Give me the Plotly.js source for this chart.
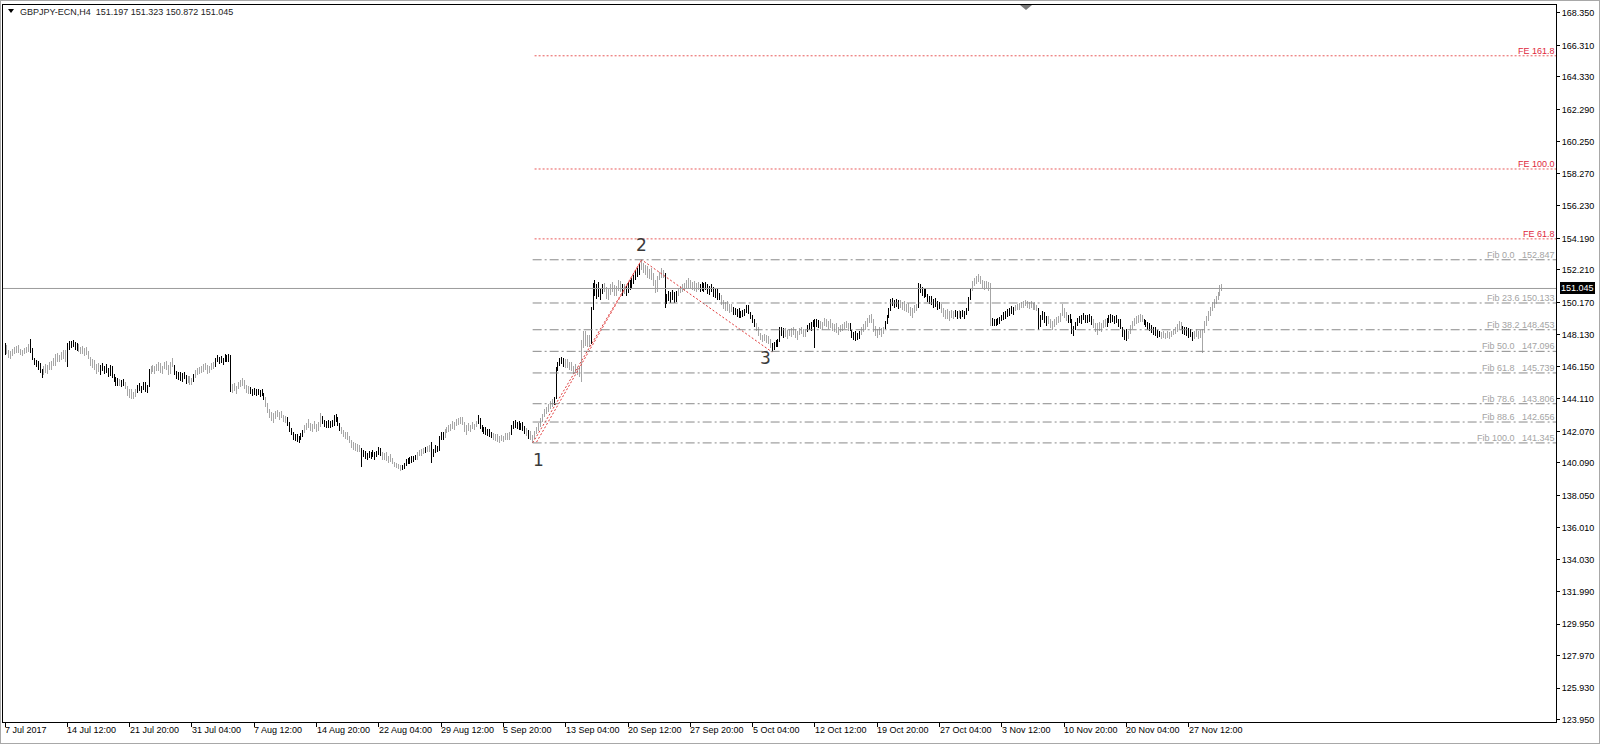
<!DOCTYPE html>
<html><head><meta charset="utf-8">
<script src="https://cdn.plot.ly/plotly-3.0.1.min.js"></script>
<style>
html,body{margin:0;padding:0;background:#fff;}
#wrap{position:relative;width:1600px;height:744px;}
#chart{width:1600px;height:744px;}
#frame{position:absolute;left:0;top:0;width:1600px;height:744px;box-sizing:border-box;border:1px solid #a8a8a8;pointer-events:none;}
g.ohlc path{shape-rendering:crispEdges;}
</style></head><body>
<div id="wrap"><div id="chart"></div><div id="frame"></div></div>
<script>
const symbolName = "GBPJPY-ECN,H4";

const barOpen = [
147.05,147.40,147.05,146.85,147.00,147.15,147.05,147.30,147.10,146.95,
147.05,147.20,147.12,147.45,147.25,146.62,146.35,146.45,146.05,145.85,
145.70,146.10,145.88,146.15,146.05,146.40,146.35,146.80,146.55,146.75,
146.95,146.70,147.05,147.50,147.55,147.62,147.45,147.30,147.50,147.15,
147.30,147.00,147.20,146.95,146.70,146.30,146.45,146.05,146.20,145.95,
146.10,145.95,146.05,145.85,145.60,146.10,145.55,145.35,145.10,145.25,
145.00,145.20,145.05,144.85,144.40,144.60,144.25,144.45,144.55,144.90,
144.70,144.85,145.05,144.65,144.90,145.85,146.05,145.90,146.10,145.95,
146.25,145.85,146.15,146.35,146.05,145.75,146.30,146.20,145.70,145.45,
145.70,145.40,145.60,145.45,145.20,145.45,145.15,145.30,145.55,145.80,
145.70,146.00,145.85,146.20,146.00,145.80,146.10,146.25,146.15,146.60,
146.50,146.65,146.45,146.60,146.75,146.55,146.80,144.75,144.90,144.70,
144.85,145.05,144.95,145.20,144.85,144.60,144.80,144.50,144.65,144.45,
144.60,144.40,144.55,144.35,144.15,143.70,143.35,143.10,142.85,143.05,
143.20,143.05,143.15,142.95,142.80,142.90,142.50,142.15,141.95,141.65,
141.80,141.50,141.65,141.85,142.05,142.35,142.50,142.40,142.20,142.45,
142.35,142.15,142.55,143.00,142.65,142.45,142.65,142.40,142.60,142.45,
142.95,142.80,142.50,142.20,142.00,141.80,141.90,141.60,141.45,141.15,
141.25,140.95,141.10,140.90,140.60,140.75,140.45,140.60,140.50,140.70,
140.55,140.65,140.75,140.95,140.60,140.40,140.60,140.30,140.45,140.25,
140.10,139.95,139.85,139.80,139.70,139.90,140.00,140.25,140.10,140.35,
140.20,140.45,140.35,140.70,140.60,140.85,140.75,141.00,140.85,141.10,
140.60,140.85,141.05,140.90,141.70,141.90,141.75,142.10,142.25,142.15,
142.45,142.35,142.55,142.75,142.60,142.85,142.55,142.15,142.35,142.20,
142.40,142.30,142.45,142.65,142.85,142.35,142.15,142.25,141.95,142.10,
141.80,141.90,141.65,141.80,141.50,141.65,141.55,141.70,141.85,141.60,
141.90,142.35,142.60,142.40,142.55,142.25,142.50,142.20,142.00,141.90,
142.05,141.65,141.75,142.00,142.25,142.50,142.80,143.05,143.35,143.50,
143.70,143.85,143.90,144.15,145.95,146.35,146.55,146.45,146.25,146.50,
146.15,146.30,145.95,146.10,145.85,145.95,145.65,147.55,148.10,147.70,
147.95,147.60,149.75,151.20,150.75,151.10,150.65,150.95,151.20,150.90,
150.55,150.85,151.15,151.00,150.75,151.05,151.40,150.95,151.15,150.85,
151.05,151.30,151.10,151.60,151.80,152.05,151.95,152.45,152.55,152.20,
152.35,151.85,152.10,151.70,151.35,150.95,151.70,151.95,152.05,151.85,
150.20,150.55,150.40,150.65,150.50,150.30,150.80,150.95,151.10,151.00,
151.30,151.20,151.45,151.15,151.35,151.05,151.25,151.10,151.20,151.05,
151.30,151.10,150.85,151.10,150.95,150.65,150.90,150.50,150.60,150.10,
149.85,150.05,149.70,149.90,149.65,149.75,149.45,149.60,149.30,149.50,
149.35,149.65,149.85,149.55,149.20,148.95,148.75,148.55,148.15,147.95,
148.05,147.85,147.95,147.65,147.45,147.35,147.60,147.50,147.75,148.45,
148.20,148.40,148.15,148.35,148.20,148.45,148.30,148.10,148.30,148.45,
148.35,148.15,148.40,148.65,148.55,148.85,148.70,148.95,148.75,148.90,
148.65,148.85,149.05,148.75,148.90,148.65,148.50,148.70,148.40,148.55,
148.45,148.70,148.85,148.65,148.75,148.45,148.05,148.20,147.90,148.15,
148.30,148.50,148.70,148.85,149.10,149.30,149.05,148.45,148.20,148.35,
148.25,148.45,148.55,148.90,149.30,149.70,150.30,150.10,150.25,150.00,
150.15,149.95,150.05,149.80,149.95,149.65,149.45,149.70,149.85,150.00,
151.10,150.95,150.75,150.85,150.60,150.35,150.45,150.15,150.30,150.00,
150.10,149.85,149.60,149.40,149.55,149.30,149.45,149.35,149.50,149.40,
149.55,149.30,149.50,149.35,149.55,149.70,150.40,150.95,151.40,151.55,
151.65,151.75,151.45,151.20,151.35,151.15,151.30,148.90,149.05,148.80,
149.00,148.90,149.15,149.30,149.20,149.50,149.40,149.70,149.60,149.75,
149.90,149.80,150.05,149.95,150.15,150.10,150.00,150.10,149.90,150.05,
149.80,149.75,148.70,149.25,149.45,149.00,149.15,148.95,148.70,148.85,
149.00,149.15,149.05,149.40,149.75,149.35,149.10,149.30,149.00,148.35,
148.55,148.85,149.10,148.95,149.25,149.20,149.05,149.25,149.10,148.90,
148.65,148.50,148.70,148.55,148.75,148.90,148.75,149.10,149.00,149.30,
149.05,149.20,148.95,149.05,148.60,148.15,148.30,147.95,148.30,148.65,
148.90,149.05,149.15,149.00,149.30,149.10,148.85,148.70,148.80,148.55,
148.40,148.50,148.20,148.30,148.10,148.20,148.05,148.15,148.05,148.20,
148.30,148.40,148.50,148.70,148.85,148.55,148.35,148.50,148.20,148.40,
148.10,147.90,148.25,148.10,148.30,148.05,148.35,148.90,149.20,149.45,
149.80,150.05,150.25,150.45,150.70,151.197
];

const barHigh = [
147.62,147.48,147.20,147.10,147.25,147.35,147.45,147.50,147.22,147.15,
147.28,147.40,147.55,147.87,147.30,146.70,146.55,146.50,146.35,146.00,
146.20,146.30,146.25,146.45,146.50,146.70,146.95,146.98,146.85,147.05,
147.15,147.18,147.65,147.72,147.75,147.80,147.70,147.60,147.55,147.40,
147.45,147.30,147.35,147.10,146.75,146.60,146.55,146.30,146.35,146.25,
146.35,146.15,146.30,146.05,146.25,146.20,145.70,145.50,145.40,145.38,
145.30,145.35,145.15,144.95,144.70,144.75,144.55,144.70,145.00,145.10,
144.95,145.20,145.15,145.00,145.97,146.20,146.25,146.15,146.30,146.40,
146.35,146.20,146.45,146.50,146.25,146.40,146.66,146.25,145.85,145.80,
145.82,145.75,145.80,145.60,145.55,145.55,145.40,145.65,145.90,146.05,
146.10,146.20,146.30,146.35,146.25,146.20,146.35,146.40,146.70,146.85,
146.75,146.80,146.70,146.90,146.85,146.95,146.87,145.05,145.10,144.95,
145.15,145.30,145.40,145.30,145.00,144.90,144.85,144.75,144.77,144.70,
144.72,144.65,144.70,144.50,144.20,143.85,143.50,143.30,143.20,143.35,
143.40,143.30,143.38,143.10,143.05,143.00,142.65,142.30,142.00,141.90,
141.90,141.75,141.95,142.15,142.45,142.60,142.85,142.60,142.55,142.70,
142.55,142.65,143.20,143.05,142.80,142.75,142.80,142.70,142.78,143.10,
143.16,142.95,142.60,142.35,142.15,142.05,142.00,141.75,141.55,141.40,
141.35,141.25,141.20,141.00,140.90,140.85,140.70,140.85,140.80,140.90,
140.75,140.85,141.10,141.05,140.80,140.70,140.75,140.55,140.65,140.40,
140.17,140.10,140.00,139.95,139.98,140.10,140.35,140.40,140.45,140.50,
140.55,140.60,140.80,140.90,140.95,141.05,141.10,141.15,141.20,141.42,
140.95,141.20,141.15,141.80,142.05,142.00,142.20,142.35,142.45,142.55,
142.70,142.65,142.85,142.90,143.00,142.95,142.68,142.45,142.60,142.50,
142.65,142.55,142.75,143.10,142.90,142.45,142.37,142.35,142.20,142.25,
142.00,141.95,141.90,141.90,141.75,141.85,141.80,141.95,141.95,142.00,
142.45,142.75,142.78,142.65,142.70,142.60,142.65,142.40,142.26,142.15,
142.10,141.85,142.10,142.35,142.60,142.90,143.15,143.45,143.60,143.80,
143.95,144.10,144.25,146.13,146.45,146.70,146.76,146.65,146.60,146.60,
146.40,146.45,146.20,146.30,146.10,146.15,147.80,148.40,148.35,148.15,
148.10,149.90,151.40,151.58,151.30,151.45,151.10,151.35,151.40,151.15,
151.00,151.30,151.47,151.25,151.20,151.58,151.50,151.30,151.35,151.20,
151.45,151.55,151.70,151.90,152.20,152.35,152.60,152.847,152.65,152.50,
152.45,152.25,152.30,152.00,151.60,151.85,152.10,152.30,152.20,152.00,
150.70,150.90,150.80,150.95,150.85,150.90,151.10,151.20,151.30,151.40,
151.55,151.68,151.60,151.45,151.50,151.40,151.45,151.35,151.47,151.40,
151.45,151.30,151.20,151.35,151.15,151.00,151.10,150.75,150.65,150.30,
150.20,150.25,150.05,150.10,149.90,149.85,149.75,149.80,149.60,149.70,
149.75,150.00,150.00,149.59,149.40,149.15,148.90,148.60,148.23,148.15,
148.20,148.10,148.05,147.85,147.60,147.70,147.81,147.85,148.60,148.65,
148.55,148.57,148.45,148.50,148.55,148.60,148.50,148.40,148.55,148.60,
148.50,148.45,148.75,148.90,148.95,149.05,149.10,149.10,149.05,149.00,
148.95,149.20,149.15,149.00,149.10,148.85,148.80,148.85,148.65,148.75,
148.80,148.95,149.00,148.90,148.85,148.46,148.30,148.35,148.25,148.40,
148.60,148.80,149.00,149.20,149.40,149.45,149.10,148.67,148.50,148.60,
148.55,148.65,149.00,149.40,149.83,150.40,150.46,150.35,150.40,150.30,
150.30,150.20,150.25,150.10,150.15,149.90,149.85,150.00,150.10,151.40,
151.30,151.15,151.00,151.05,150.67,150.60,150.55,150.40,150.45,150.25,
150.20,150.04,149.85,149.70,149.75,149.60,149.70,149.65,149.72,149.65,
149.70,149.60,149.70,149.65,149.80,150.50,151.09,151.50,151.70,151.80,
151.97,151.85,151.55,151.50,151.51,151.45,151.40,149.20,149.15,149.10,
149.20,149.25,149.40,149.55,149.60,149.75,149.80,149.93,149.90,150.00,
150.10,150.15,150.20,150.25,150.35,150.25,150.20,150.25,150.15,150.20,
150.00,149.80,149.40,149.62,149.55,149.30,149.30,149.15,149.00,149.10,
149.25,149.30,149.50,150.04,149.80,149.55,149.40,149.45,149.10,148.70,
148.95,149.20,149.30,149.35,149.51,149.40,149.35,149.45,149.30,149.10,
148.90,148.85,148.95,148.85,149.05,149.12,149.20,149.35,149.43,149.40,
149.30,149.35,149.15,149.10,148.65,148.45,148.50,148.40,148.75,149.00,
149.20,149.30,149.35,149.43,149.40,149.15,149.05,148.95,148.90,148.75,
148.65,148.60,148.45,148.40,148.30,148.38,148.25,148.35,148.30,148.40,
148.50,148.60,148.80,149.01,148.95,148.70,148.65,148.60,148.55,148.50,
148.28,148.35,148.49,148.40,148.45,148.49,149.00,149.30,149.60,149.90,
150.20,150.40,150.60,150.80,151.25,151.323
];

const barLow = [
146.87,146.95,146.70,146.62,146.80,146.95,146.98,147.02,146.85,146.78,
146.92,147.00,147.05,147.00,146.55,146.24,146.10,145.95,145.72,145.40,
145.62,145.75,145.70,145.95,145.90,146.20,146.20,146.45,146.40,146.55,
146.60,146.45,146.10,147.20,147.30,147.35,147.20,147.10,147.05,146.95,
146.90,146.80,146.85,146.60,146.20,146.05,145.95,145.70,145.80,145.60,
145.85,145.65,145.75,145.50,145.55,145.45,145.20,144.90,144.95,144.92,
144.88,144.95,144.75,144.30,144.15,144.10,144.12,144.20,144.45,144.60,
144.50,144.65,144.55,144.46,144.85,145.70,145.80,145.65,145.85,145.85,
145.75,145.70,146.00,145.95,145.60,145.70,146.10,145.60,145.35,145.30,
145.25,145.20,145.35,145.05,145.10,145.00,144.98,145.20,145.45,145.60,
145.65,145.75,145.80,145.90,145.70,145.75,145.95,146.00,146.10,146.40,
146.30,146.35,146.25,146.45,146.40,146.45,144.56,144.50,144.60,144.40,
144.70,144.85,144.90,144.75,144.45,144.40,144.40,144.30,144.35,144.28,
144.35,144.25,144.30,144.05,143.60,143.25,142.90,142.70,142.58,142.85,
142.95,142.80,142.90,142.65,142.60,142.40,142.05,141.85,141.55,141.45,
141.40,141.32,141.50,141.70,141.95,142.15,142.30,142.10,142.05,142.25,
142.05,142.10,142.35,142.55,142.35,142.30,142.30,142.26,142.35,142.40,
142.65,142.40,142.10,141.90,141.70,141.60,141.50,141.35,141.05,140.90,
140.85,140.80,140.75,139.85,140.45,140.35,140.27,140.40,140.35,140.45,
140.30,140.45,140.60,140.50,140.30,140.25,140.20,140.10,140.15,140.00,
139.85,139.75,139.68,139.55,139.62,139.70,139.90,140.00,140.05,140.10,
140.15,140.25,140.30,140.50,140.55,140.65,140.70,140.75,140.80,140.06,
140.48,140.70,140.75,140.85,141.55,141.53,141.65,141.95,142.05,142.10,
142.25,142.15,142.40,142.50,142.55,142.45,142.05,141.85,142.10,142.05,
142.20,142.15,142.35,142.55,142.25,142.00,141.90,141.85,141.75,141.70,
141.63,141.55,141.45,141.40,141.32,141.45,141.38,141.55,141.50,141.55,
141.85,142.25,142.30,142.20,142.16,142.15,142.10,141.90,141.80,141.60,
141.55,141.345,141.60,141.90,142.10,142.35,142.65,142.95,143.15,143.30,
143.45,143.60,143.75,144.10,145.85,146.15,146.30,146.10,146.05,146.05,
145.90,145.85,145.70,145.75,145.60,145.50,145.19,147.30,147.45,147.40,
147.40,147.55,149.70,150.55,150.40,150.50,150.32,150.70,150.80,150.40,
150.35,150.65,150.85,150.60,150.55,150.90,150.80,150.60,150.70,150.55,
150.75,150.95,151.00,151.35,151.60,151.75,151.90,152.20,152.00,151.90,
151.70,151.65,151.55,151.20,150.74,150.85,151.55,151.70,151.68,149.80,
150.10,150.25,150.15,150.35,150.11,150.20,150.60,150.74,150.85,150.90,
151.05,151.10,151.00,150.95,150.90,150.85,150.95,150.80,150.90,150.85,
150.95,150.70,150.65,150.80,150.50,150.45,150.35,150.32,150.00,149.75,
149.65,149.60,149.48,149.55,149.40,149.35,149.25,149.20,149.17,149.25,
149.30,149.50,149.45,149.10,148.85,148.60,148.40,148.05,147.80,147.70,
147.75,147.60,147.55,147.30,147.05,147.20,147.40,147.35,147.70,148.05,
147.95,148.00,147.90,148.05,148.00,148.15,147.95,147.83,148.10,148.20,
148.00,148.00,148.30,148.45,148.40,148.60,147.30,148.60,148.55,148.50,
148.45,148.70,148.65,148.50,148.55,148.35,148.30,148.25,148.15,148.30,
148.35,148.50,148.55,148.40,148.35,147.95,147.80,147.73,147.80,147.90,
148.10,148.30,148.45,148.65,148.85,148.90,148.30,148.05,147.94,148.10,
148.00,148.20,148.50,148.80,149.20,149.65,149.95,149.85,149.90,149.75,
149.80,149.70,149.65,149.55,149.50,149.30,149.20,149.50,149.60,149.85,
150.75,150.55,150.46,150.50,150.20,150.10,150.00,149.85,149.90,149.72,
149.75,149.50,149.25,149.10,149.15,148.99,149.20,149.10,149.25,149.15,
149.20,149.10,149.25,149.15,149.35,149.65,150.30,150.90,151.20,151.30,
151.45,151.30,151.05,150.95,151.00,150.90,148.67,148.70,148.67,148.70,
148.75,148.80,149.00,149.05,149.10,149.25,149.30,149.45,149.40,149.62,
149.70,149.70,149.80,149.85,149.95,149.85,149.75,149.80,149.70,149.70,
149.62,148.46,148.60,149.05,148.90,148.70,148.80,148.55,148.46,148.65,
148.75,148.90,148.95,149.30,149.20,149.00,148.90,148.88,148.20,148.04,
148.46,148.70,148.85,148.80,149.05,148.90,148.85,148.95,148.75,148.55,
148.30,148.15,148.40,148.30,148.55,148.60,148.65,148.85,148.90,148.95,
148.80,148.85,148.60,148.50,148.00,147.80,147.76,147.85,148.20,148.50,
148.70,148.80,148.90,148.95,148.95,148.75,148.60,148.45,148.40,148.25,
148.15,148.05,147.96,148.00,147.90,147.95,147.86,147.95,147.90,148.00,
148.10,148.20,148.30,148.50,148.45,148.20,148.10,148.05,147.96,148.00,
147.76,147.86,148.00,147.90,147.95,147.02,148.25,148.70,149.00,149.30,
149.60,149.85,150.05,150.30,150.55,150.872
];

const barClose = [
147.40,147.05,146.85,147.00,147.15,147.05,147.30,147.10,146.95,147.05,
147.20,147.12,147.45,147.25,146.62,146.35,146.45,146.05,145.85,145.70,
146.10,145.88,146.15,146.05,146.40,146.35,146.80,146.55,146.75,146.95,
146.70,147.05,147.50,147.55,147.62,147.45,147.30,147.50,147.15,147.30,
147.00,147.20,146.95,146.70,146.30,146.45,146.05,146.20,145.95,146.10,
145.95,146.05,145.85,145.60,146.10,145.55,145.35,145.10,145.25,145.00,
145.20,145.05,144.85,144.40,144.60,144.25,144.45,144.55,144.90,144.70,
144.85,145.05,144.65,144.90,145.85,146.05,145.90,146.10,145.95,146.25,
145.85,146.15,146.35,146.05,145.75,146.30,146.20,145.70,145.45,145.70,
145.40,145.60,145.45,145.20,145.45,145.15,145.30,145.55,145.80,145.70,
146.00,145.85,146.20,146.00,145.80,146.10,146.25,146.15,146.60,146.50,
146.65,146.45,146.60,146.75,146.55,146.80,144.75,144.90,144.70,144.85,
145.05,144.95,145.20,144.85,144.60,144.80,144.50,144.65,144.45,144.60,
144.40,144.55,144.35,144.15,143.70,143.35,143.10,142.85,143.05,143.20,
143.05,143.15,142.95,142.80,142.90,142.50,142.15,141.95,141.65,141.80,
141.50,141.65,141.85,142.05,142.35,142.50,142.40,142.20,142.45,142.35,
142.15,142.55,143.00,142.65,142.45,142.65,142.40,142.60,142.45,142.95,
142.80,142.50,142.20,142.00,141.80,141.90,141.60,141.45,141.15,141.25,
140.95,141.10,140.90,140.60,140.75,140.45,140.60,140.50,140.70,140.55,
140.65,140.75,140.95,140.60,140.40,140.60,140.30,140.45,140.25,140.10,
139.95,139.85,139.80,139.70,139.90,140.00,140.25,140.10,140.35,140.20,
140.45,140.35,140.70,140.60,140.85,140.75,141.00,140.85,141.10,140.60,
140.85,141.05,140.90,141.70,141.90,141.75,142.10,142.25,142.15,142.45,
142.35,142.55,142.75,142.60,142.85,142.55,142.15,142.35,142.20,142.40,
142.30,142.45,142.65,142.85,142.35,142.15,142.25,141.95,142.10,141.80,
141.90,141.65,141.80,141.50,141.65,141.55,141.70,141.85,141.60,141.90,
142.35,142.60,142.40,142.55,142.25,142.50,142.20,142.00,141.90,142.05,
141.65,141.75,142.00,142.25,142.50,142.80,143.05,143.35,143.50,143.70,
143.85,143.90,144.15,145.95,146.35,146.55,146.45,146.25,146.50,146.15,
146.30,145.95,146.10,145.85,145.95,145.65,147.55,148.10,147.70,147.95,
147.60,149.75,151.20,150.75,151.10,150.65,150.95,151.20,150.90,150.55,
150.85,151.15,151.00,150.75,151.05,151.40,150.95,151.15,150.85,151.05,
151.30,151.10,151.60,151.80,152.05,151.95,152.45,152.55,152.20,152.35,
151.85,152.10,151.70,151.35,150.95,151.70,151.95,152.05,151.85,150.20,
150.55,150.40,150.65,150.50,150.30,150.80,150.95,151.10,151.00,151.30,
151.20,151.45,151.15,151.35,151.05,151.25,151.10,151.20,151.05,151.30,
151.10,150.85,151.10,150.95,150.65,150.90,150.50,150.60,150.10,149.85,
150.05,149.70,149.90,149.65,149.75,149.45,149.60,149.30,149.50,149.35,
149.65,149.85,149.55,149.20,148.95,148.75,148.55,148.15,147.95,148.05,
147.85,147.95,147.65,147.45,147.35,147.60,147.50,147.75,148.45,148.20,
148.40,148.15,148.35,148.20,148.45,148.30,148.10,148.30,148.45,148.35,
148.15,148.40,148.65,148.55,148.85,148.70,148.95,148.75,148.90,148.65,
148.85,149.05,148.75,148.90,148.65,148.50,148.70,148.40,148.55,148.45,
148.70,148.85,148.65,148.75,148.45,148.05,148.20,147.90,148.15,148.30,
148.50,148.70,148.85,149.10,149.30,149.05,148.45,148.20,148.35,148.25,
148.45,148.55,148.90,149.30,149.70,150.30,150.10,150.25,150.00,150.15,
149.95,150.05,149.80,149.95,149.65,149.45,149.70,149.85,150.00,151.10,
150.95,150.75,150.85,150.60,150.35,150.45,150.15,150.30,150.00,150.10,
149.85,149.60,149.40,149.55,149.30,149.45,149.35,149.50,149.40,149.55,
149.30,149.50,149.35,149.55,149.70,150.40,150.95,151.40,151.55,151.65,
151.75,151.45,151.20,151.35,151.15,151.30,148.90,149.05,148.80,149.00,
148.90,149.15,149.30,149.20,149.50,149.40,149.70,149.60,149.75,149.90,
149.80,150.05,149.95,150.15,150.10,150.00,150.10,149.90,150.05,149.80,
149.75,148.70,149.25,149.45,149.00,149.15,148.95,148.70,148.85,149.00,
149.15,149.05,149.40,149.75,149.35,149.10,149.30,149.00,148.35,148.55,
148.85,149.10,148.95,149.25,149.20,149.05,149.25,149.10,148.90,148.65,
148.50,148.70,148.55,148.75,148.90,148.75,149.10,149.00,149.30,149.05,
149.20,148.95,149.05,148.60,148.15,148.30,147.95,148.30,148.65,148.90,
149.05,149.15,149.00,149.30,149.10,148.85,148.70,148.80,148.55,148.40,
148.50,148.20,148.30,148.10,148.20,148.05,148.15,148.05,148.20,148.30,
148.40,148.50,148.70,148.85,148.55,148.35,148.50,148.20,148.40,148.10,
147.90,148.25,148.10,148.30,148.05,148.35,148.90,149.20,149.45,149.80,
150.05,150.25,150.45,150.70,151.197,151.045
];

// bar shade as drawn on the chart: k = black bar, g = grey bar (10 bars per entry)
const barShade = [
"kggggggggg","gggkkkkkkk","gggggggggg","ggkkkkkkgg","gggggggggk",
"kkkkkkkkkg","kkggggggkk","kkkkkggggg","gggggggkkk","kkkkgggkgg",
"ggggggggkk","kkkkkkkggg","ggggggkkkk","kkkkgggggg","gggggkkkkk",
"kkkkgggggg","gggkkkkkkk","kkkggggggg","gggkkkkkkk","kkkkgggggg",
"ggggkkkkkk","kkggggkggk","kkkkkkgggg","gggggggggg","gggkkkkkkk",
"kggggggggg","kkkkkkkkgk","gggggggggg","ggkkkkkkgg","gggggggggg",
"gkkkkkkkgg","gggggggkgk","kkkkkkkggg","gggggggggk","kkkkkkgggg",
"gggggggkkk","kkkkkkkkgg","ggggkkkkkk","kkkkkkgggg","ggggkkkkkk",
"kggggggggg","ggkkkkkkkg","gggggggggg","ggggkkkkkk","gggggggggg",
"ggkkkkkkkk","gggggggggk","kkkkkkkkkk","kgggggggkk","gkkkkkkggg",
"gggggggkkk","kkkkkkkkkg","gggggggggg","gkkkkkgggg","ggggggkkkk",
"kkkkkkkkkg","ggggggkkkk","kkkkkkkggg","gggggkkkkk","kkkkgggggg",
"gggggkkkkk","kggggggggg","gggggg"
];

const timeLabels = ["7 Jul 2017","14 Jul 12:00","21 Jul 20:00","31 Jul 04:00","7 Aug 12:00","14 Aug 20:00","22 Aug 04:00","29 Aug 12:00","5 Sep 20:00","13 Sep 04:00","20 Sep 12:00","27 Sep 20:00","5 Oct 04:00","12 Oct 12:00","19 Oct 20:00","27 Oct 04:00","3 Nov 12:00","10 Nov 20:00","20 Nov 04:00","27 Nov 12:00"];
const timeLabelBars = [0,32,64,96,128,160,192,224,256,288,320,352,384,416,448,480,512,544,576,608];

const priceTicks = [168.350,166.310,164.330,162.290,160.250,158.270,156.230,154.190,152.210,150.170,148.130,146.150,144.110,142.070,140.090,138.050,136.010,134.030,131.990,129.950,127.970,125.930,123.950];

const fibText = ["Fib 0.0   152.847","Fib 23.6 150.133","Fib 38.2 148.453","Fib 50.0   147.096","Fib 61.8   145.739","Fib 78.6   143.806","Fib 88.6   142.656","Fib 100.0   141.345"];
const fibPrices = [152.847,150.133,148.453,147.096,145.739,143.806,142.656,141.345];
const feText = ["FE 61.8","FE 100.0","FE 161.8"];
const fePrices = [154.16,158.55,165.66];

const waveLabels = ["1","2","3"];
const waveBars = [271,327,394];
const wavePrices = [141.345,152.847,147.05];

// ---------- drawing ----------
const W = 1600, H = 744;
const M = {l:3, r:44, t:5, b:22};
const xRange = [-1.03, 796.6];
const yRange = [123.815, 168.85];
const plotW = W - M.l - M.r, plotH = H - M.t - M.b;
const pxX = px => (px - M.l) / plotW;
const pxY = py => (H - M.b - py) / plotH;

const shade = barShade.join('');
const idxK = [], idxG = [];
for (let i = 0; i < barClose.length; i++) (shade[i] === 'k' ? idxK : idxG).push(i);

function ohlcTrace(ids, color) {
  return {
    type: 'ohlc', x: ids,
    open: ids.map(i => barOpen[i]), high: ids.map(i => barHigh[i]),
    low: ids.map(i => barLow[i]), close: ids.map(i => barClose[i]),
    increasing: {line: {color: color, width: 1}},
    decreasing: {line: {color: color, width: 1}},
    tickwidth: 0, hoverinfo: 'skip', showlegend: false
  };
}

const traces = [
  ohlcTrace(idxG, '#a6a6a6'),
  ohlcTrace(idxK, '#000000'),
  {type: 'scatter', mode: 'lines', x: waveBars, y: wavePrices,
   line: {color: '#e03838', width: 1, dash: '2px,2px'}, hoverinfo: 'skip', showlegend: false},
  {type: 'scatter', mode: 'lines', x: [waveBars[0] + 2, waveBars[1]], y: [wavePrices[0] + 0.05, wavePrices[1]],
   line: {color: '#e03838', width: 1, dash: '2px,2px'}, hoverinfo: 'skip', showlegend: false}
];

const lastClose = barClose[barClose.length - 1];
const shapes = [];
fibPrices.forEach(p => shapes.push({type: 'line', xref: 'x', yref: 'y', x0: waveBars[0], x1: xRange[1], y0: p, y1: p,
  line: {color: '#8a8a8a', width: 1, dash: '9px,3px,2px,3px'}}));
fePrices.forEach(p => shapes.push({type: 'line', xref: 'x', yref: 'y', x0: waveBars[0] + 1, x1: xRange[1], y0: p, y1: p,
  line: {color: '#e85a5a', width: 1, dash: '2px,2px'}}));
shapes.push({type: 'line', xref: 'paper', yref: 'y', x0: 0, x1: 1, y0: lastClose, y1: lastClose,
  line: {color: '#9c9c9c', width: 1}});
// small menu triangle at top-left and shift marker at the top border
shapes.push({type: 'path', xref: 'paper', yref: 'paper',
  path: `M ${pxX(8)} ${pxY(9)} L ${pxX(14)} ${pxY(9)} L ${pxX(11)} ${pxY(13)} Z`,
  fillcolor: '#000', line: {width: 0}});
shapes.push({type: 'path', xref: 'paper', yref: 'paper',
  path: `M ${pxX(1020)} ${pxY(5)} L ${pxX(1032)} ${pxY(5)} L ${pxX(1026)} ${pxY(10)} Z`,
  fillcolor: '#7a7a7a', line: {width: 0}});

const font9 = {family: 'Liberation Sans, Arial, sans-serif', size: 9, color: '#000'};
const annotations = [];
timeLabels.forEach((t, k) => annotations.push({
  text: t, x: timeLabelBars[k], xref: 'x', y: 0, yref: 'paper', xanchor: 'left', yanchor: 'top',
  yshift: -3, xshift: 0, showarrow: false, borderpad: 0, borderwidth: 0, font: font9}));
fibText.forEach((t, k) => annotations.push({
  text: t.replace(/ {2,}/g, m => '\u00a0'.repeat(m.length)), x: 1, xref: 'paper', y: fibPrices[k], yref: 'y',
  xanchor: 'right', yanchor: 'bottom', xshift: -1, yshift: 0, showarrow: false, borderpad: 0, borderwidth: 0,
  font: {family: font9.family, size: 9, color: '#a4a4a4'}}));
feText.forEach((t, k) => annotations.push({
  text: t, x: 1, xref: 'paper', y: fePrices[k], yref: 'y',
  xanchor: 'right', yanchor: 'bottom', xshift: -1, yshift: 0, showarrow: false, borderpad: 0, borderwidth: 0,
  font: {family: font9.family, size: 9, color: '#e0283c'}}));
const waveShift = [[6, -17], [0, 15], [-7, -6]];
waveLabels.forEach((t, k) => annotations.push({
  text: t, x: waveBars[k], xref: 'x', y: wavePrices[k], yref: 'y', xshift: waveShift[k][0], yshift: waveShift[k][1],
  showarrow: false, borderpad: 0, borderwidth: 0,
  font: {family: 'DejaVu Sans, sans-serif', size: 17, color: '#3a3a3a'}}));
annotations.push({
  text: lastClose.toFixed(3), x: 1, xref: 'paper', y: lastClose, yref: 'y', xanchor: 'left', yanchor: 'middle',
  xshift: 4, showarrow: false, bgcolor: '#000', borderpad: 1, borderwidth: 0,
  font: {family: font9.family, size: 9, color: '#fff'}});
const n = barClose.length - 1;
const header = symbolName + '\u00a0\u00a0' + [barOpen[n], barHigh[n], barLow[n], barClose[n]].map(v => v.toFixed(3)).join(' ');
annotations.push({
  text: header, x: pxX(20), xref: 'paper', y: pxY(12), yref: 'paper', xanchor: 'left', yanchor: 'middle',
  showarrow: false, borderpad: 0, borderwidth: 0, font: {family: font9.family, size: 9, color: '#222'}});

const layout = {
  width: W, height: H, margin: {l: M.l, r: M.r, t: M.t, b: M.b, pad: 0},
  paper_bgcolor: '#ffffff', plot_bgcolor: '#ffffff', showlegend: false,
  xaxis: {range: xRange, showgrid: false, zeroline: false, showline: true, mirror: true,
    linecolor: '#000', linewidth: 1, ticks: 'outside', ticklen: 4, tickcolor: '#000', tickwidth: 1,
    tickvals: timeLabelBars, showticklabels: false, rangeslider: {visible: false}, fixedrange: true},
  yaxis: {side: 'right', range: yRange, showgrid: false, zeroline: false, showline: true, mirror: true,
    linecolor: '#000', linewidth: 1, ticks: 'outside', ticklen: 3, tickcolor: '#000', tickwidth: 1,
    tickvals: priceTicks, ticktext: priceTicks.map(v => v.toFixed(3)), tickfont: font9, fixedrange: true},
  shapes: shapes, annotations: annotations
};

Plotly.newPlot('chart', traces, layout, {displayModeBar: false, staticPlot: true});
</script>
</body></html>
